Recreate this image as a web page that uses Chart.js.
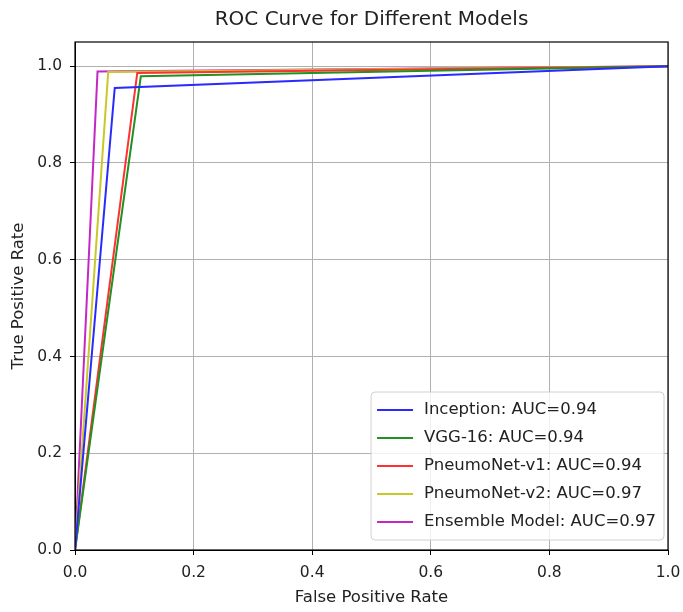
<!DOCTYPE html>
<html><head><meta charset="utf-8">
<script src="https://cdn.jsdelivr.net/npm/chart.js@4"></script>
<style>html,body{margin:0;padding:0;background:#fff}#wrap{width:683px;height:612px}</style>
</head><body><div id="wrap"><canvas id="c" width="683" height="612"></canvas></div>
<script>
const modelNames = ["Inception", "VGG-16", "PneumoNet-v1", "PneumoNet-v2", "Ensemble Model"];
const aucValues = ["0.94", "0.94", "0.94", "0.97", "0.97"];
const fprInception = [0, 0.067, 1];
const tprInception = [0, 0.955, 1];
const fprVGG = [0, 0.111, 1];
const tprVGG = [0, 0.979, 1];
const fprPV1 = [0, 0.105, 1];
const tprPV1 = [0, 0.986, 1];
const fprPV2 = [0, 0.056, 1];
const tprPV2 = [0, 0.988, 1];
const fprEns = [0, 0.038, 1];
const tprEns = [0, 0.989, 1];
const xTicks = [0, 0.2, 0.4, 0.6, 0.8, 1.0];
const yTicks = [0, 0.2, 0.4, 0.6, 0.8, 1.0];
const colors = ["#2a2aff", "#229022", "#ff3030", "#c8c828", "#c428c4"];

const fprs = [fprInception, fprVGG, fprPV1, fprPV2, fprEns];
const tprs = [tprInception, tprVGG, tprPV1, tprPV2, tprEns];
const datasets = modelNames.map((n, i) => ({
  label: n + ": AUC=" + aucValues[i],
  data: fprs[i].map((x, j) => ({x: x, y: tprs[i][j]})),
  borderColor: colors[i],
  backgroundColor: colors[i],
  borderWidth: 2,
  pointRadius: 0,
  fill: false,
  tension: 0
}));

const FONT = "'DejaVu Sans', sans-serif";

const framePlugin = {
  id: 'frame',
  afterDraw(chart) {
    const ctx = chart.ctx, a = chart.chartArea;
    ctx.save();
    ctx.strokeStyle = '#000'; ctx.lineWidth = 1.2;
    ctx.strokeRect(a.left, a.top, a.right - a.left, a.bottom - a.top);
    ctx.fillStyle = '#222';
    ctx.font = "20px " + FONT;
    ctx.textAlign = 'center'; ctx.textBaseline = 'middle';
    ctx.fillText("ROC Curve for Different Models", (a.left + a.right) / 2, 20);
    const ds = chart.data.datasets;
    ctx.font = "16.5px " + FONT;
    let maxW = 0;
    ds.forEach(d => { maxW = Math.max(maxW, ctx.measureText(d.label).width); });
    const rowH = 28, pad = 6, lineLen = 36, gap = 11;
    const bw = pad + lineLen + gap + maxW + 8;
    const bh = rowH * ds.length + 8;
    const bx = a.right - 4 - bw, by = a.bottom - 10 - bh;
    ctx.fillStyle = 'rgba(255,255,255,0.8)';
    ctx.strokeStyle = '#d0d0d0'; ctx.lineWidth = 1;
    const r = 4;
    ctx.beginPath();
    ctx.moveTo(bx + r, by); ctx.lineTo(bx + bw - r, by); ctx.arcTo(bx + bw, by, bx + bw, by + r, r);
    ctx.lineTo(bx + bw, by + bh - r); ctx.arcTo(bx + bw, by + bh, bx + bw - r, by + bh, r);
    ctx.lineTo(bx + r, by + bh); ctx.arcTo(bx, by + bh, bx, by + bh - r, r);
    ctx.lineTo(bx, by + r); ctx.arcTo(bx, by, bx + r, by, r);
    ctx.closePath(); ctx.fill(); ctx.stroke();
    ds.forEach((d, i) => {
      const cy = by + 4 + rowH * i + rowH / 2;
      ctx.strokeStyle = d.borderColor; ctx.lineWidth = 2;
      ctx.beginPath(); ctx.moveTo(bx + pad, cy); ctx.lineTo(bx + pad + lineLen, cy); ctx.stroke();
      ctx.fillStyle = '#222'; ctx.textAlign = 'left'; ctx.textBaseline = 'middle';
      ctx.fillText(d.label, bx + pad + lineLen + gap, cy);
    });
    ctx.restore();
  }
};

new Chart(document.getElementById('c'), {
  type: 'line',
  data: { datasets: datasets },
  options: {
    responsive: false,
    animation: false,
    layout: { padding: { top: 42, right: 15, left: 0, bottom: 0 } },
    plugins: { legend: { display: false }, title: { display: false }, tooltip: { enabled: false } },
    scales: {
      x: {
        type: 'linear', min: 0, max: 1,
        afterFit: s => { s.height = 62; s.paddingLeft = 0; s.paddingRight = 0; },
        afterBuildTicks: s => { s.ticks = xTicks.map(v => ({value: v})); },
        ticks: { font: { family: FONT, size: 15.5 }, color: '#222', padding: 9, maxRotation: 0,
                 callback: v => Number(v).toFixed(1) },
        grid: { color: '#b0b0b0', lineWidth: 1, tickColor: '#000', tickLength: 5 },
        border: { display: true, color: '#000' },
        title: { display: true, text: 'False Positive Rate', font: { family: FONT, size: 16.5 }, color: '#222', padding: { top: 2, bottom: 4 } }
      },
      y: {
        type: 'linear', min: 0, max: 1.05,
        afterFit: s => { s.width = 75; s.paddingTop = 0; s.paddingBottom = 0; },
        afterBuildTicks: s => { s.ticks = yTicks.map(v => ({value: v})); },
        ticks: { font: { family: FONT, size: 15.5 }, color: '#222', padding: 8,
                 callback: v => Number(v).toFixed(1) },
        grid: { color: '#b0b0b0', lineWidth: 1, tickColor: '#000', tickLength: 5 },
        border: { display: true, color: '#000' },
        title: { display: true, text: 'True Positive Rate', font: { family: FONT, size: 16.5 }, color: '#222', padding: { top: 9, bottom: 0 } }
      }
    }
  },
  plugins: [framePlugin]
});
</script>
</body></html>
